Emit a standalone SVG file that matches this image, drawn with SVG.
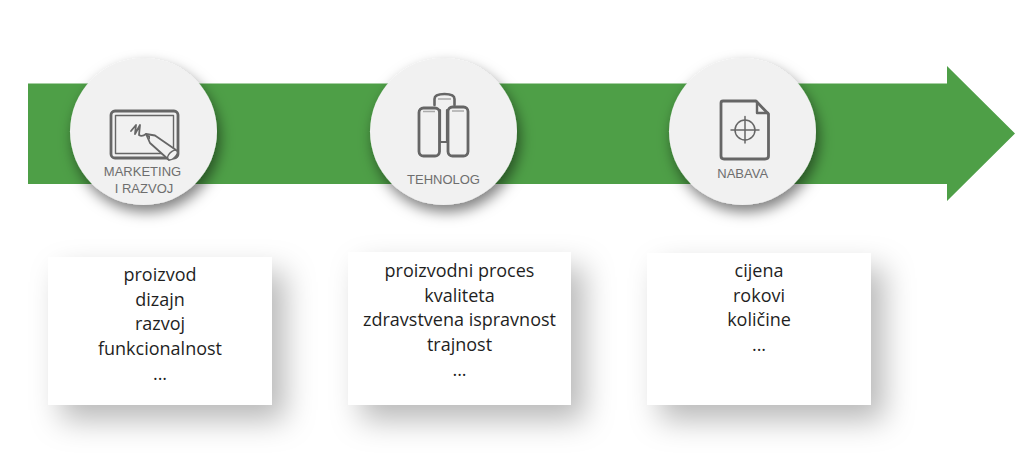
<svg xmlns="http://www.w3.org/2000/svg" width="1024" height="453" viewBox="0 0 1024 453">
<style>
.t{font-family:"Open Sans","Noto Sans",sans-serif;font-size:18px;fill:#1f1f1f;text-anchor:middle}
.l{font-family:"Liberation Sans",Arial,sans-serif;font-size:13px;fill:#6e6e6e;text-anchor:middle}
.c{fill:#f1f1f1;filter:url(#cs)}
.b{fill:#fff;filter:url(#bs)}
.i{fill:none;stroke:#666;stroke-linejoin:round;stroke-linecap:round}
.s{filter:url(#soft)}
</style>
<defs>
<filter id="cs" x="-30%" y="-30%" width="170%" height="170%"><feDropShadow dx="3" dy="7" stdDeviation="7" flood-color="#000" flood-opacity=".5"/></filter>
<filter id="bs" x="-25%" y="-30%" width="160%" height="180%"><feDropShadow dx="13" dy="15" stdDeviation="15" flood-color="#000" flood-opacity=".28"/></filter>
<filter id="soft" x="-10%" y="-10%" width="120%" height="120%"><feGaussianBlur stdDeviation=".45"/></filter>
</defs>
<g id="connectors"><path id="arrow" d="M28 83.500H947V66L1015 133.500L947 201V184H28Z" fill="#4e9f47"/></g>
<g id="node-marketing">
<circle class="c" cx="143.500" cy="131.500" r="73.500"/>
<g class="s">
<rect class="i" x="111" y="111" width="67" height="47" rx="4" stroke-width="2.800"/>
<rect class="i" x="115.500" y="115.500" width="58" height="38" stroke-width="1.400"/>
<path class="i" d="M131 131L136 125L135 134L140 125L139 135Q142 137 146 134" stroke-width="1.800"/>
<path d="M146 134L155 135.500L176 150L169 160L150 143Z" fill="#f1f1f1" stroke="#666" stroke-width="1.800" stroke-linejoin="round"/>
<path d="M146 134L150 136L150 140Z" fill="#666"/>
<ellipse cx="172.500" cy="155" rx="3.200" ry="6" transform="rotate(45 172.500 155)" fill="#f1f1f1" stroke="#666" stroke-width="1.600"/>
</g>
<text class="l" x="142.500" y="176">MARKETING</text>
<text class="l" x="144" y="192.500">I RAZVOJ</text>
</g>
<g id="node-tehnolog">
<circle class="c" cx="443.500" cy="131.500" r="73.500"/>
<g class="s">
<path class="i" d="M434.500 105V99Q434.500 94 444.500 94Q454.500 94 454.500 99V105" stroke-width="2.600"/>
<path class="i" d="M440 110V142H447V110" stroke-width="2.200"/>
<rect class="i" x="419" y="108" width="20.500" height="48" rx="4.500" stroke-width="2.800"/>
<rect class="i" x="448" y="107" width="20" height="49" rx="4.500" stroke-width="2.800"/>
<path d="M423 111.500H435M452 111H464M438 99H451" fill="none" stroke="#aaa" stroke-width="1.500"/>
</g>
<text class="l" x="443.500" y="184">TEHNOLOG</text>
</g>
<g id="node-nabava">
<circle class="c" cx="742.500" cy="131.500" r="73.500"/>
<g class="s">
<path class="i" d="M723 101H756L768.500 114V156Q768.500 159 765 159H724Q721 159 721 156V103Q721 101 723 101Z" stroke-width="2.800"/>
<path class="i" d="M757 102V113H768" stroke-width="2.400"/>
<circle class="i" cx="745" cy="130" r="10" stroke-width="1.500"/>
<path class="i" d="M731 130H759M745 116.500V143" stroke-width="1.500"/>
</g>
<text class="l" x="742.700" y="178">NABAVA</text>
</g>
<g id="box-1">
<rect class="b" x="48" y="257" width="224" height="148"/>
<text class="t" x="160" y="281">proizvod</text>
<text class="t" x="160" y="306">dizajn</text>
<text class="t" x="160" y="330">razvoj</text>
<text class="t" x="160" y="355">funkcionalnost</text>
<text class="t" x="160" y="380">...</text>
</g>
<g id="box-2">
<rect class="b" x="348" y="252" width="223" height="153"/>
<text class="t" x="459.500" y="277">proizvodni proces</text>
<text class="t" x="459.500" y="302">kvaliteta</text>
<text class="t" x="459.500" y="326">zdravstvena ispravnost</text>
<text class="t" x="459.500" y="351">trajnost</text>
<text class="t" x="459.500" y="376">...</text>
</g>
<g id="box-3">
<rect class="b" x="647" y="253" width="224" height="152"/>
<text class="t" x="759" y="277">cijena</text>
<text class="t" x="759" y="302">rokovi</text>
<text class="t" x="759" y="326">količine</text>
<text class="t" x="759" y="351">...</text>
</g>
</svg>
